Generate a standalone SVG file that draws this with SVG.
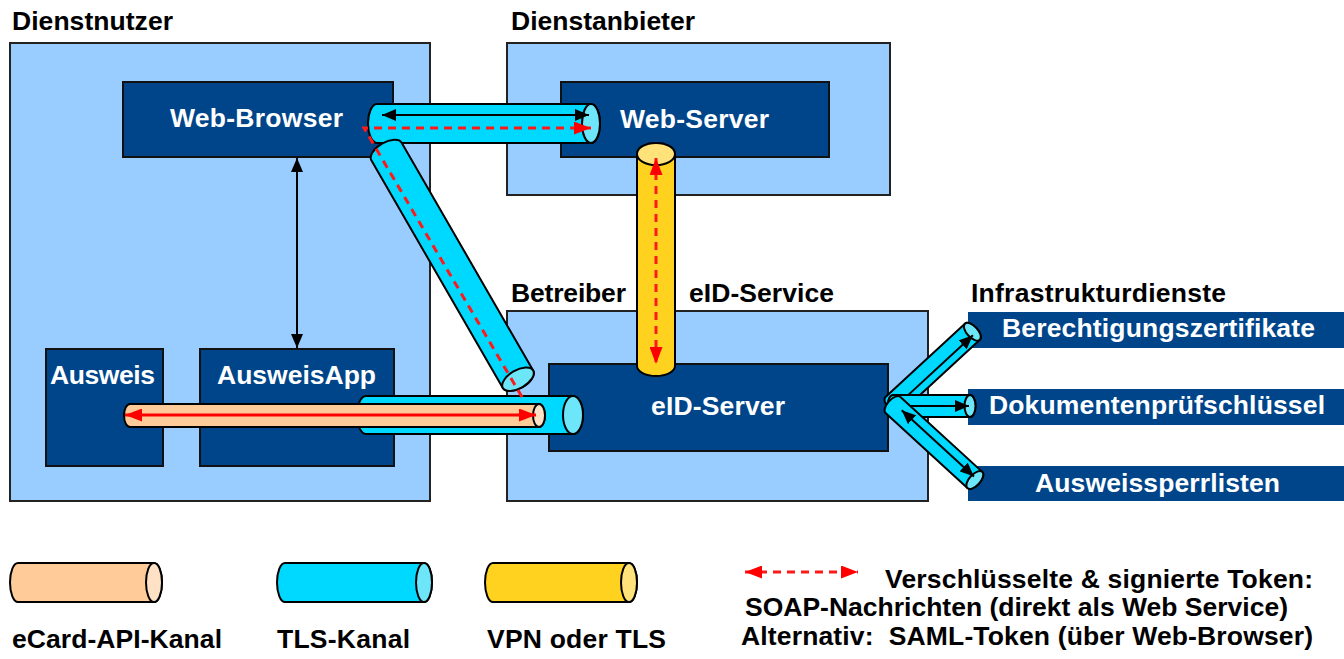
<svg xmlns="http://www.w3.org/2000/svg" width="1344" height="659" viewBox="0 0 1344 659">
  <style>
    .zone { fill: #99CCFF; stroke: #222; stroke-width: 2; }
    .node { fill: #00458A; stroke: #111; stroke-width: 2; }
    .infra { fill: #00458A; }
    .hdr { font-family: "Liberation Sans", Arial, sans-serif; font-weight: bold; font-size: 26.5px; fill: #000; }
    .lbl { font-family: "Liberation Sans", Arial, sans-serif; font-weight: bold; font-size: 26.5px; fill: #fff; }
    .tls { fill: #00D9FF; stroke: #000; stroke-width: 2; }
    .tls-end { fill: #6EE6FA; stroke: #000; stroke-width: 2; }
    .ecard { fill: #FFCC99; stroke: #000; stroke-width: 2; }
    .ecard-end { fill: #FFE2C6; stroke: #000; stroke-width: 2; }
    .vpn { fill: #FFD21F; stroke: #000; stroke-width: 2; }
    .vpn-end { fill: #FFE27A; stroke: #000; stroke-width: 2; }
    .flow { fill: none; stroke: #000; stroke-width: 2; }
    .token { fill: none; stroke: #FF1A1A; stroke-width: 3; stroke-dasharray: 8 6; }
    .card { fill: none; stroke: #FF0000; stroke-width: 3; }
  </style>
  <defs>
    <marker id="ah-black" markerUnits="userSpaceOnUse" markerWidth="14" markerHeight="12" refX="14" refY="6" orient="auto-start-reverse">
      <path d="M0,0 L14,6 L0,12 z" fill="#000"/>
    </marker>
    <marker id="ah-red" markerUnits="userSpaceOnUse" markerWidth="17" markerHeight="13" refX="17" refY="6.5" orient="auto-start-reverse">
      <path d="M0,0 L17,6.5 L0,13 z" fill="#FF0000"/>
    </marker>
  </defs>

  <rect width="1344" height="659" fill="#fff"/>

  <!-- Dienstnutzer zone -->
  <g id="dienstnutzer">
    <text class="hdr" x="12" y="30" textLength="161">Dienstnutzer</text>
    <rect class="zone" x="10" y="43" width="420" height="458"/>
  </g>
  <g id="web-browser">
    <rect class="node" x="123" y="82" width="270" height="75"/>
    <text class="lbl" x="170" y="127" textLength="173">Web-Browser</text>
  </g>
  <g id="ausweis">
    <rect class="node" x="46" y="349" width="117" height="117"/>
    <text class="lbl" x="50" y="384" textLength="105">Ausweis</text>
  </g>
  <g id="ausweisapp">
    <rect class="node" x="200" y="349" width="194" height="117"/>
    <text class="lbl" x="217" y="384" textLength="159">AusweisApp</text>
  </g>

  <!-- Dienstanbieter zone -->
  <g id="dienstanbieter">
    <text class="hdr" x="511" y="30" textLength="184">Dienstanbieter</text>
    <rect class="zone" x="507" y="43" width="383" height="152"/>
  </g>
  <g id="web-server">
    <rect class="node" x="561" y="82" width="268" height="75"/>
    <text class="lbl" x="620" y="128" textLength="149">Web-Server</text>
  </g>

  <!-- eID-Service operator zone -->
  <g id="eid-service">
    <text class="hdr" x="511" y="302" textLength="115">Betreiber</text>
    <text class="hdr" x="689" y="302" textLength="145">eID-Service</text>
    <rect class="zone" x="507" y="311" width="421" height="190"/>
  </g>
  <g id="eid-server">
    <rect class="node" x="549" y="364" width="339" height="87"/>
    <text class="lbl" x="651" y="415" textLength="134">eID-Server</text>
  </g>

  <!-- Infrastructure services -->
  <g id="infrastrukturdienste">
    <text class="hdr" x="971" y="302" textLength="255">Infrastrukturdienste</text>
  </g>
  <g id="berechtigungszertifikate">
    <rect class="infra" x="968" y="312" width="376" height="36"/>
    <text class="lbl" x="1002" y="337" textLength="313">Berechtigungszertifikate</text>
  </g>
  <g id="dokumentenpruefschluessel">
    <rect class="infra" x="968" y="389" width="376" height="36"/>
    <text class="lbl" x="989" y="414" textLength="336">Dokumentenprüfschlüssel</text>
  </g>
  <g id="ausweissperrlisten">
    <rect class="infra" x="968" y="466" width="376" height="35"/>
    <text class="lbl" x="1035" y="492" textLength="245">Ausweissperrlisten</text>
  </g>

  <!-- Channels (drawn as cylinders) and message flows -->
  <g id="connectors">
    <!-- Web-Browser <-> AusweisApp -->
    <line class="flow" x1="297" y1="158" x2="297" y2="348" marker-start="url(#ah-black)" marker-end="url(#ah-black)"/>

    <!-- TLS: Web-Browser <-> Web-Server -->
    <g transform="translate(377,123.5)">
      <path class="tls" d="M214,-19.5 H0 A9,19.5 0 0 0 0,19.5 H214 A9,19.5 0 0 0 214,-19.5 Z"/>
      <ellipse class="tls-end" cx="214" cy="0" rx="9" ry="19.5"/>
    </g>
    <line class="flow" x1="382" y1="115" x2="589" y2="115" marker-start="url(#ah-black)" marker-end="url(#ah-black)"/>

    <!-- TLS: Web-Browser <-> eID-Server -->
    <g transform="translate(386.5,151.5) rotate(60)">
      <path class="tls" d="M263,-17.5 H0 A9,17.5 0 0 0 0,17.5 H263 A9,17.5 0 0 0 263,-17.5 Z"/>
      <ellipse class="tls-end" cx="263" cy="0" rx="9" ry="17.5"/>
    </g>

    <!-- TLS: AusweisApp <-> eID-Server -->
    <g transform="translate(366,415)">
      <path class="tls" d="M207,-19 H0 A9,19 0 0 0 0,19 H207 A10,19 0 0 0 207,-19 Z"/>
      <ellipse class="tls-end" cx="207" cy="0" rx="10" ry="19"/>
    </g>

    <!-- eCard-API: Ausweis <-> eID-Server -->
    <g transform="translate(130,415.5)">
      <path class="ecard" d="M409,-11.5 H0 A6,11.5 0 0 0 0,11.5 H409 A6,11.5 0 0 0 409,-11.5 Z"/>
      <ellipse class="ecard-end" cx="409" cy="0" rx="6" ry="11.5"/>
    </g>
    <line class="card" x1="125" y1="415" x2="536" y2="415" marker-start="url(#ah-red)" marker-end="url(#ah-red)"/>

    <!-- VPN or TLS: Web-Server <-> eID-Server -->
    <g transform="translate(656,366) rotate(-90)">
      <path class="vpn" d="M212,-19 H0 A10,19 0 0 0 0,19 H212 A11,19 0 0 0 212,-19 Z"/>
      <ellipse class="vpn-end" cx="212" cy="0" rx="11" ry="19"/>
    </g>
    <line class="token" x1="656" y1="158" x2="656" y2="364" marker-start="url(#ah-red)" marker-end="url(#ah-red)"/>

    <!-- Token path eID-Server -> Web-Browser -> Web-Server -->
    <polyline class="token" points="522,397 364,128 591,128" marker-end="url(#ah-red)"/>

    <!-- TLS: eID-Server <-> infrastructure services -->
    <g transform="translate(893,405) rotate(-42.7)">
      <path class="tls" d="M108,-11 H0 A5.5,11 0 0 0 0,11 H108 A5.5,11 0 0 0 108,-11 Z"/>
      <ellipse class="tls-end" cx="108" cy="0" rx="5.5" ry="11"/>
      <line class="flow" x1="6" y1="3" x2="106" y2="3" marker-end="url(#ah-black)"/>
    </g>
    <g transform="translate(893,406)">
      <path class="tls" d="M77,-11 H0 A5.5,11 0 0 0 0,11 H77 A5.5,11 0 0 0 77,-11 Z"/>
      <ellipse class="tls-end" cx="77" cy="0" rx="5.5" ry="11"/>
      <line class="flow" x1="6" y1="0" x2="76" y2="0" marker-end="url(#ah-black)"/>
    </g>
    <g transform="translate(893,405) rotate(42.5)">
      <path class="tls" d="M111,-11 H0 A5.5,11 0 0 0 0,11 H111 A5.5,11 0 0 0 111,-11 Z"/>
      <ellipse class="tls-end" cx="111" cy="0" rx="5.5" ry="11"/>
      <line class="flow" x1="10" y1="-2" x2="108" y2="-2" marker-start="url(#ah-black)" marker-end="url(#ah-black)"/>
    </g>
  </g>

  <!-- Legend -->
  <g id="legend">
    <g transform="translate(18,582.5)">
      <path class="ecard" d="M136,-19.5 H0 A8,19.5 0 0 0 0,19.5 H136 A8,19.5 0 0 0 136,-19.5 Z"/>
      <ellipse class="ecard-end" cx="136" cy="0" rx="8" ry="19.5"/>
    </g>
    <g transform="translate(285,582.5)">
      <path class="tls" d="M139,-19.5 H0 A8,19.5 0 0 0 0,19.5 H139 A8,19.5 0 0 0 139,-19.5 Z"/>
      <ellipse class="tls-end" cx="139" cy="0" rx="8" ry="19.5"/>
    </g>
    <g transform="translate(493,582.5)">
      <path class="vpn" d="M136,-19.5 H0 A8,19.5 0 0 0 0,19.5 H136 A8,19.5 0 0 0 136,-19.5 Z"/>
      <ellipse class="vpn-end" cx="136" cy="0" rx="8" ry="19.5"/>
    </g>
    <text class="hdr" x="12" y="648" textLength="210">eCard-API-Kanal</text>
    <text class="hdr" x="277" y="648" textLength="133">TLS-Kanal</text>
    <text class="hdr" x="487" y="648" textLength="179">VPN oder TLS</text>

    <line class="token" x1="745" y1="572" x2="858" y2="572" marker-start="url(#ah-red)" marker-end="url(#ah-red)"/>
    <text class="hdr" x="885" y="588" textLength="428">Verschlüsselte &amp; signierte Token:</text>
    <text class="hdr" x="745" y="616" textLength="543">SOAP-Nachrichten (direkt als Web Service)</text>
    <text class="hdr" x="741" y="645" textLength="572" xml:space="preserve">Alternativ:  SAML-Token (über Web-Browser)</text>
  </g>
</svg>
